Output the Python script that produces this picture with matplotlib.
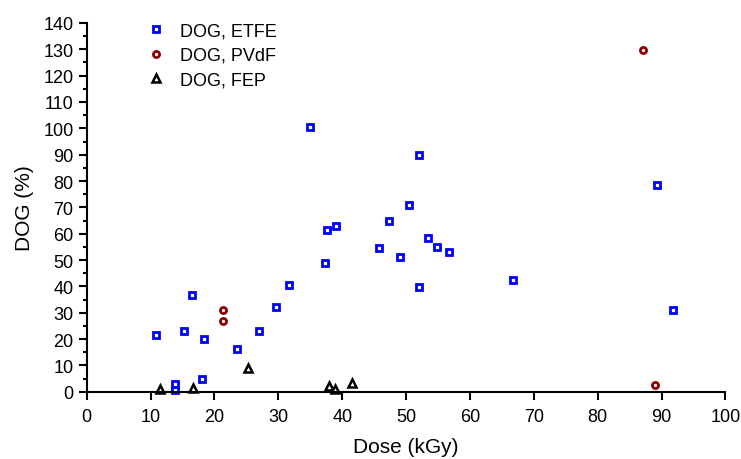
import matplotlib
matplotlib.use("Agg")
import matplotlib.pyplot as plt
from matplotlib.ticker import MultipleLocator

plt.rcParams["font.family"] = ["Liberation Sans", "DejaVu Sans"]

etfe_dose = [10.8, 13.9, 13.9, 15.2, 16.5, 18.0, 18.4, 23.6, 26.9, 29.7, 31.6,
             35.0, 37.3, 37.6, 39.0, 45.8, 47.4, 49.1, 50.4, 52.0, 52.0, 53.5,
             54.8, 56.7, 66.8, 89.3, 91.8]
etfe_dog = [21.6, 2.9, 0.8, 23.0, 36.7, 5.0, 19.9, 16.4, 23.2, 32.2, 40.6,
            100.4, 48.8, 61.6, 62.8, 54.4, 64.7, 51.3, 70.8, 39.6, 90.0, 58.4,
            55.0, 53.1, 42.6, 78.4, 31.1]

pvdf_dose = [21.4, 21.4, 87.1, 88.9]
pvdf_dog = [30.9, 26.7, 129.8, 2.6]

fep_dose = [11.4, 16.6, 25.2, 37.9, 38.8, 41.5]
fep_dog = [1.0, 1.6, 9.2, 2.4, 1.1, 3.4]

fig = plt.figure(figsize=(7.41, 4.6), dpi=100)
ax = fig.add_axes([0.117, 0.146, 0.862, 0.802])

ax.plot(etfe_dose, etfe_dog, "s", ls="none", ms=4.2, mew=2.0, mec="#0000ff",
        mfc="white", label="DOG, ETFE", clip_on=False)
ax.plot(pvdf_dose, pvdf_dog, "o", ls="none", ms=4.4, mew=2.0, mec="#8b0000",
        mfc="white", label="DOG, PVdF", clip_on=False)
ax.plot(fep_dose, fep_dog, "^", ls="none", ms=5.5, mew=1.8, mec="black",
        mfc="white", label="DOG, FEP", clip_on=False)

ax.set_xlim(0, 100)
ax.set_ylim(0, 140)
ax.xaxis.set_major_locator(MultipleLocator(10))
ax.yaxis.set_major_locator(MultipleLocator(10))
ax.yaxis.set_minor_locator(MultipleLocator(5))
ax.spines["top"].set_visible(False)
ax.spines["right"].set_visible(False)
ax.spines["left"].set_linewidth(1.5)
ax.spines["bottom"].set_linewidth(1.5)
ax.tick_params(axis="both", which="major", direction="out", length=6, width=1.5,
               labelsize=13)
ax.tick_params(axis="x", which="major", pad=5.5)
ax.tick_params(axis="y", which="minor", direction="out", length=3, width=1.5)

ax.set_xlabel("Dose (kGy)", fontsize=15, labelpad=9)
ax.set_ylabel("DOG (%)", fontsize=15, labelpad=7)

ax.legend(loc="upper left", bbox_to_anchor=(0.075, 1.035), frameon=False,
          fontsize=13, handlelength=1.0, handletextpad=0.8,
          labelspacing=0.4, borderpad=0.2)

fig.savefig("out.png", dpi=100)
